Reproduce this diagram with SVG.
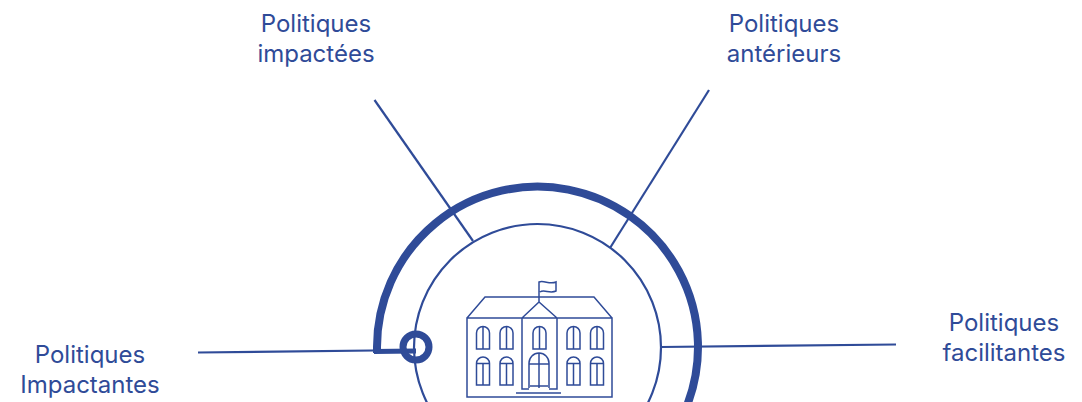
<svg xmlns="http://www.w3.org/2000/svg" width="1082" height="402" viewBox="0 0 1082 402">
<style>
.t{font-family:"Inter","Noto Sans",sans-serif;font-size:24px;fill:#2f4b98;text-anchor:middle}
.l{fill:none;stroke:#2f4b98;stroke-width:2.2}
.b{fill:none;stroke:#2f4b98;stroke-width:1.5}
</style>
<rect width="1082" height="402" fill="#fff"/>
<g id="connectors">
<path class="l" d="M374.500 100L473 241"/>
<path class="l" d="M709 90L610 248"/>
<path class="l" d="M198 352.500L416 350"/>
<path class="l" d="M661 347L896 344.500"/>
</g>
<g id="rings">
<circle class="l" cx="537.500" cy="347.500" r="123.500"/>
<path d="M377 353L377 347.500A160.500 160.500 0 1 1 686 408" fill="none" stroke="#2f4b98" stroke-width="8"/>
<path d="M374 351.500L416 351" fill="none" stroke="#2f4b98" stroke-width="5"/>
<circle cx="416" cy="347" r="13" fill="none" stroke="#2f4b98" stroke-width="7"/>
</g>
<g id="building">
<path class="b" d="M467 318V397H612V318ZM467 318L485 297H594L612 318M522 318L539 302L557 318M522 318V389H529M549 389H557V318M539 302V282C544 280 550 285 556 282V291C550 294 544 289 540 292"/>
<path class="b" d="M516 393H561M530 386H548"/>
<path class="b" d="M476.500 349V333A6.500 6.500 0 0 1 489.500 333V349ZM483 327V349M500 349V333A6.500 6.500 0 0 1 513 333V349ZM506.500 327V349M533 349V333A6.500 6.500 0 0 1 546 333V349ZM539.500 327V349M567 349V333A6.500 6.500 0 0 1 580 333V349ZM573.500 327V349M590.500 349V333A6.500 6.500 0 0 1 603.500 333V349ZM597 327V349"/>
<path class="b" d="M476.500 385V363.500A6.500 6.500 0 0 1 489.500 363.500V385ZM476.500 363.500H489.500M483 363.500V385M500 385V363.500A6.500 6.500 0 0 1 513 363.500V385ZM500 363.500H513M506.500 363.500V385M567 385V363.500A6.500 6.500 0 0 1 580 363.500V385ZM567 363.500H580M573.500 363.500V385M590.500 385V363.500A6.500 6.500 0 0 1 603.500 363.500V385ZM590.500 363.500H603.500M597 363.500V385"/>
<path class="b" d="M529 388V363A10 10 0 0 1 549 363V388M529 364H549M539 353V388"/>
</g>
<g id="node-impactees"><text class="t"><tspan x="316" y="32">Politiques</tspan><tspan x="316" y="62">impactées</tspan></text></g>
<g id="node-anterieurs"><text class="t"><tspan x="784" y="32">Politiques</tspan><tspan x="784" y="62">antérieurs</tspan></text></g>
<g id="node-facilitantes"><text class="t"><tspan x="1004" y="331">Politiques</tspan><tspan x="1004" y="361">facilitantes</tspan></text></g>
<g id="node-impactantes"><text class="t"><tspan x="90" y="363">Politiques</tspan><tspan x="90" y="393">Impactantes</tspan></text></g>
</svg>
